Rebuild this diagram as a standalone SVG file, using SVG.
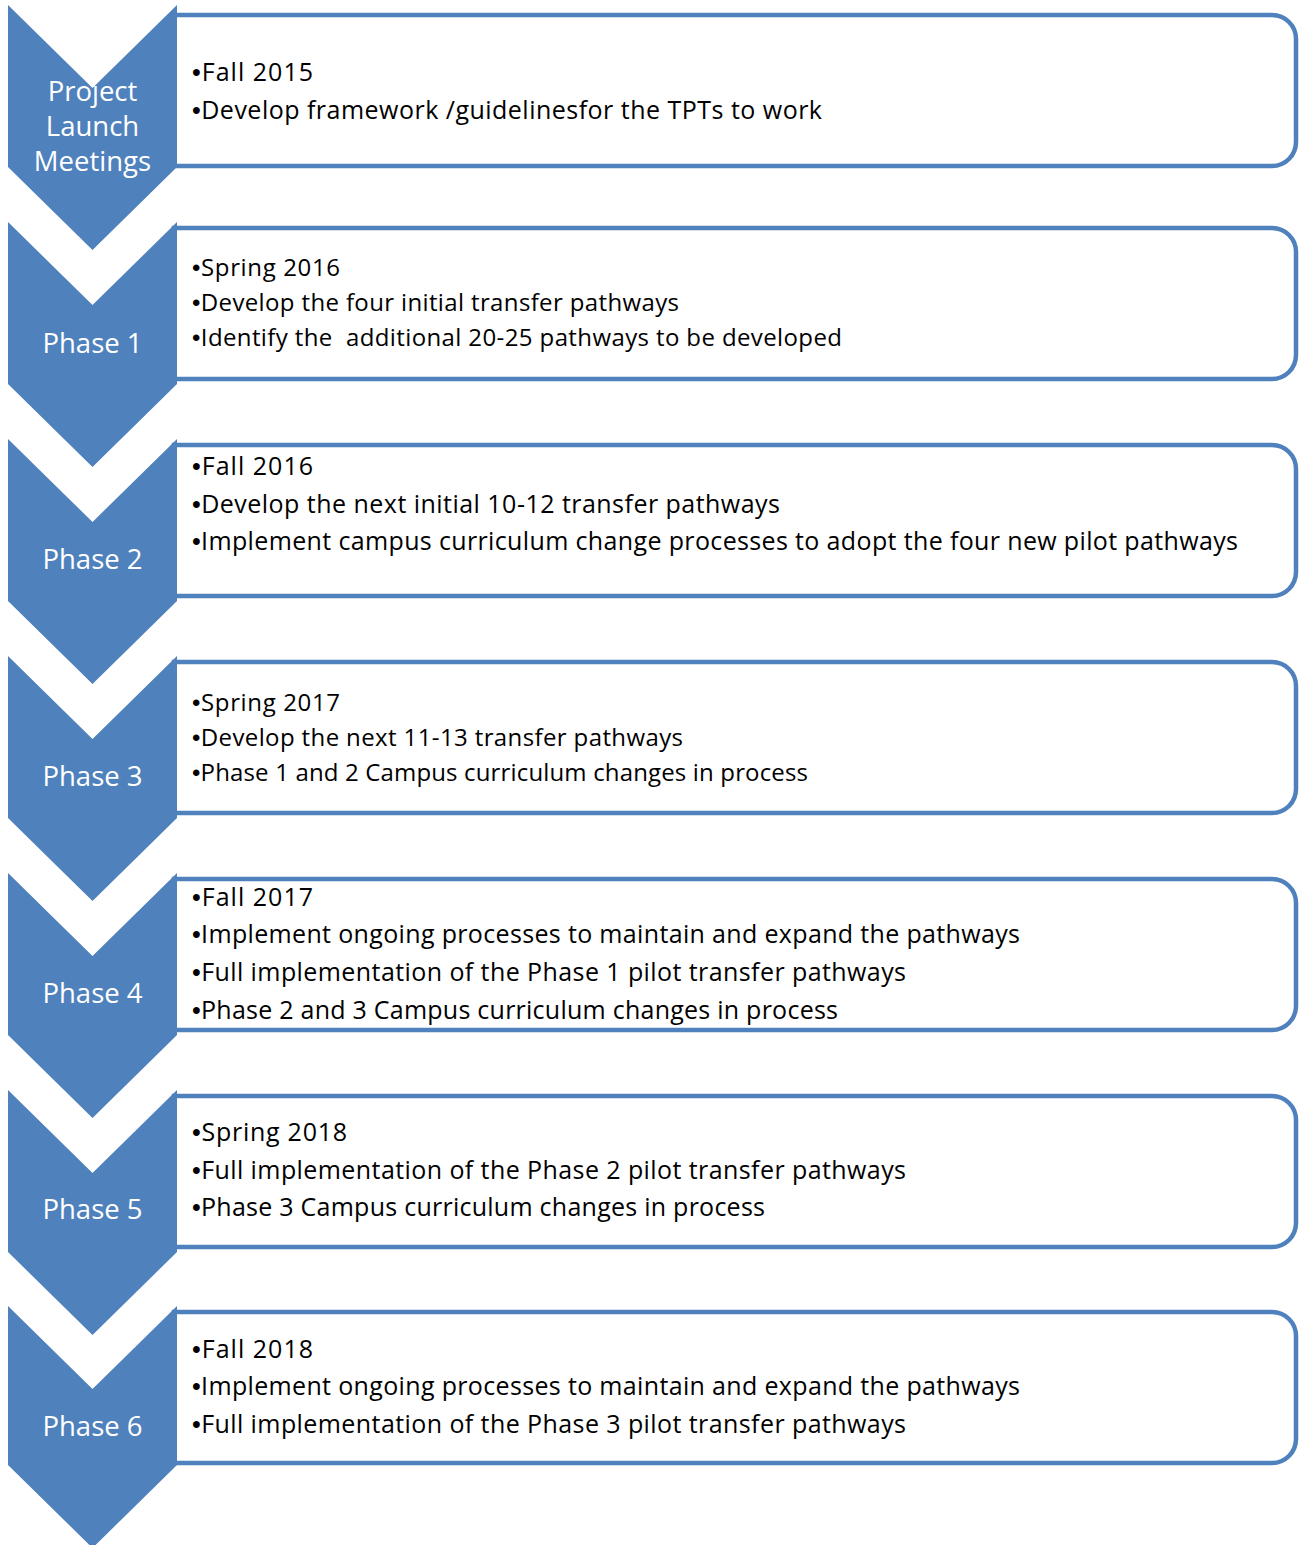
<svg xmlns="http://www.w3.org/2000/svg" width="1302" height="1545" viewBox="0 0 1302 1545">
<style>
.box{fill:#fff;stroke:#4F81BD;stroke-width:4.5}
.chev{fill:#4F81BD}
.lbl{font-family:"Open Sans","Liberation Sans",sans-serif;font-size:27.5px;fill:#fff;text-anchor:middle}
.t{font-family:"Open Sans","Liberation Sans",sans-serif;font-size:25px;fill:#000}
.s{font-size:24px}
.b{font-family:"Liberation Sans",sans-serif}
</style>
<rect width="1302" height="1545" fill="#fff"/>
<g id="step0">
<path class="box" d="M174,15 H1272 A24,24 0 0 1 1296,39 V142 A24,24 0 0 1 1272,166 H174 Z"/>
<path class="chev" d="M8,5 L92.5,88 L177,5 L177,167 L92.5,250 L8,167 Z"/>
<text class="lbl" x="92.5" y="101">Project</text>
<text class="lbl" x="92.5" y="136">Launch</text>
<text class="lbl" x="92.5" y="171">Meetings</text>
<text class="t" x="192" y="81" textLength="121"><tspan class="b">•</tspan>Fall 2015</text>
<text class="t" x="192" y="119" textLength="630"><tspan class="b">•</tspan>Develop framework /guidelinesfor the TPTs to work</text>
</g>
<g id="step1">
<path class="box" d="M174,228 H1272 A24,24 0 0 1 1296,252 V355 A24,24 0 0 1 1272,379 H174 Z"/>
<path class="chev" d="M8,222 L92.5,305 L177,222 L177,384 L92.5,467 L8,384 Z"/>
<text class="lbl" x="92.5" y="353">Phase 1</text>
<text class="t s" x="192" y="276" textLength="148"><tspan class="b">•</tspan>Spring 2016</text>
<text class="t s" x="192" y="311" textLength="487"><tspan class="b">•</tspan>Develop the four initial transfer pathways</text>
<text class="t s" x="192" y="346" textLength="650" xml:space="preserve"><tspan class="b">•</tspan>Identify the  additional 20-25 pathways to be developed</text>
</g>
<g id="step2">
<path class="box" d="M174,445 H1272 A24,24 0 0 1 1296,469 V572 A24,24 0 0 1 1272,596 H174 Z"/>
<path class="chev" d="M8,439 L92.5,522 L177,439 L177,601 L92.5,684 L8,601 Z"/>
<text class="lbl" x="92.5" y="569">Phase 2</text>
<text class="t" x="192" y="475" textLength="121"><tspan class="b">•</tspan>Fall 2016</text>
<text class="t" x="192" y="513" textLength="588"><tspan class="b">•</tspan>Develop the next initial 10-12 transfer pathways</text>
<text class="t" x="192" y="550" textLength="1046"><tspan class="b">•</tspan>Implement campus curriculum change processes to adopt the four new pilot pathways</text>
</g>
<g id="step3">
<path class="box" d="M174,662 H1272 A24,24 0 0 1 1296,686 V789 A24,24 0 0 1 1272,813 H174 Z"/>
<path class="chev" d="M8,656 L92.5,739 L177,656 L177,818 L92.5,901 L8,818 Z"/>
<text class="lbl" x="92.5" y="786">Phase 3</text>
<text class="t s" x="192" y="711" textLength="148"><tspan class="b">•</tspan>Spring 2017</text>
<text class="t s" x="192" y="746" textLength="491"><tspan class="b">•</tspan>Develop the next 11-13 transfer pathways</text>
<text class="t s" x="192" y="781" textLength="616"><tspan class="b">•</tspan>Phase 1 and 2 Campus curriculum changes in process</text>
</g>
<g id="step4">
<path class="box" d="M174,879 H1272 A24,24 0 0 1 1296,903 V1006 A24,24 0 0 1 1272,1030 H174 Z"/>
<path class="chev" d="M8,873 L92.5,956 L177,873 L177,1035 L92.5,1118 L8,1035 Z"/>
<text class="lbl" x="92.5" y="1003">Phase 4</text>
<text class="t" x="192" y="906" textLength="121"><tspan class="b">•</tspan>Fall 2017</text>
<text class="t" x="192" y="943" textLength="828"><tspan class="b">•</tspan>Implement ongoing processes to maintain and expand the pathways</text>
<text class="t" x="192" y="981" textLength="714"><tspan class="b">•</tspan>Full implementation of the Phase 1 pilot transfer pathways</text>
<text class="t" x="192" y="1019" textLength="646"><tspan class="b">•</tspan>Phase 2 and 3 Campus curriculum changes in process</text>
</g>
<g id="step5">
<path class="box" d="M174,1096 H1272 A24,24 0 0 1 1296,1120 V1223 A24,24 0 0 1 1272,1247 H174 Z"/>
<path class="chev" d="M8,1090 L92.5,1173 L177,1090 L177,1252 L92.5,1335 L8,1252 Z"/>
<text class="lbl" x="92.5" y="1219">Phase 5</text>
<text class="t" x="192" y="1141" textLength="155"><tspan class="b">•</tspan>Spring 2018</text>
<text class="t" x="192" y="1179" textLength="714"><tspan class="b">•</tspan>Full implementation of the Phase 2 pilot transfer pathways</text>
<text class="t" x="192" y="1216" textLength="573"><tspan class="b">•</tspan>Phase 3 Campus curriculum changes in process</text>
</g>
<g id="step6">
<path class="box" d="M174,1312 H1272 A24,24 0 0 1 1296,1336 V1439 A24,24 0 0 1 1272,1463 H174 Z"/>
<path class="chev" d="M8,1306 L92.5,1389 L177,1306 L177,1465 L92.5,1548 L8,1465 Z"/>
<text class="lbl" x="92.5" y="1436">Phase 6</text>
<text class="t" x="192" y="1358" textLength="121"><tspan class="b">•</tspan>Fall 2018</text>
<text class="t" x="192" y="1395" textLength="828"><tspan class="b">•</tspan>Implement ongoing processes to maintain and expand the pathways</text>
<text class="t" x="192" y="1433" textLength="714"><tspan class="b">•</tspan>Full implementation of the Phase 3 pilot transfer pathways</text>
</g>
</svg>
